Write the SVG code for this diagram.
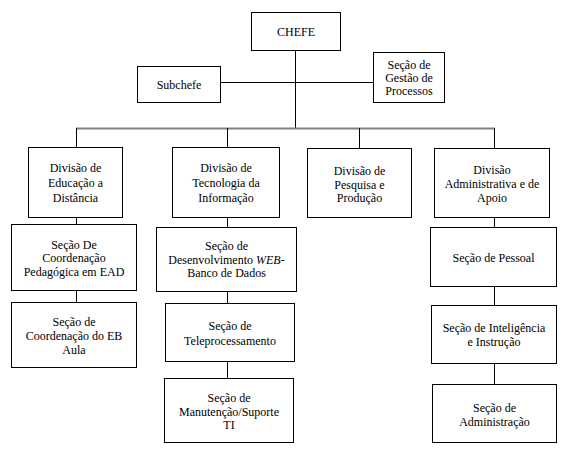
<svg xmlns="http://www.w3.org/2000/svg" width="571" height="464" viewBox="0 0 571 464">
<style>
rect.n{fill:#fff;stroke:#000;stroke-width:1}
.c line{stroke:#000;stroke-width:1}
.c line.bus{stroke:#808080;stroke-width:2}
</style>
<rect width="571" height="464" fill="#fff"/>
<g class="c" id="connectors">
<line x1="295.5" y1="50" x2="295.5" y2="128"/>
<line x1="221" y1="82.5" x2="373" y2="82.5"/>
<line class="bus" x1="76" y1="128.5" x2="495" y2="128.5"/>
<line x1="76.5" y1="128" x2="76.5" y2="147"/>
<line x1="227.5" y1="128" x2="227.5" y2="147"/>
<line x1="359.5" y1="128" x2="359.5" y2="148"/>
<line x1="494.5" y1="128" x2="494.5" y2="148"/>
<line x1="76.5" y1="218" x2="76.5" y2="224"/>
<line x1="76.5" y1="291" x2="76.5" y2="302"/>
<line x1="227.5" y1="218" x2="227.5" y2="227"/>
<line x1="227.5" y1="292" x2="227.5" y2="303"/>
<line x1="227.5" y1="362" x2="227.5" y2="378"/>
<line x1="494.5" y1="218" x2="494.5" y2="227"/>
<line x1="494.5" y1="287" x2="494.5" y2="305"/>
<line x1="494.5" y1="364" x2="494.5" y2="384"/>
</g>
<g font-family="'Liberation Serif', 'DejaVu Serif', serif" font-size="12" fill="#000" text-anchor="middle">
<g id="chefe"><rect class="n" x="251.5" y="12.5" width="89" height="38"/><text x="296" y="35.5">CHEFE</text></g>
<g id="subchefe"><rect class="n" x="137.5" y="66.5" width="83" height="36"/><text x="179" y="88.5">Subchefe</text></g>
<g id="gestao"><rect class="n" x="373.5" y="52.5" width="71" height="50"/><text x="409" y="69">Seção de</text><text x="409" y="82">Gestão de</text><text x="409" y="95">Processos</text></g>
<g id="div-ead"><rect class="n" x="28.5" y="147.5" width="94" height="70"/><text x="75.5" y="172">Divisão de</text><text x="75.5" y="187">Educação a</text><text x="75.5" y="201.5">Distância</text></g>
<g id="div-ti"><rect class="n" x="172.5" y="147.5" width="107" height="70"/><text x="226" y="172">Divisão de</text><text x="226" y="187">Tecnologia da</text><text x="226" y="201.5">Informação</text></g>
<g id="div-pesq"><rect class="n" x="307.5" y="148.5" width="104" height="69"/><text x="359.5" y="175">Divisão de</text><text x="359.5" y="188.5">Pesquisa e</text><text x="359.5" y="202">Produção</text></g>
<g id="div-adm"><rect class="n" x="434.5" y="148.5" width="115" height="69"/><text x="492" y="174">Divisão</text><text x="492" y="188">Administrativa e de</text><text x="492" y="202">Apoio</text></g>
<g id="sec-coord-ped"><rect class="n" x="11.5" y="224.5" width="125" height="66"/><text x="74" y="248.5">Seção De</text><text x="74" y="262">Coordenação</text><text x="74" y="275.5">Pedagógica em EAD</text></g>
<g id="sec-coord-eb"><rect class="n" x="11.5" y="302.5" width="125" height="65"/><text x="74" y="326">Seção de</text><text x="74" y="340">Coordenação do EB</text><text x="74" y="354">Aula</text></g>
<g id="sec-web"><rect class="n" x="156.5" y="227.5" width="140" height="64"/><text x="226.5" y="250">Seção de</text><text x="226.5" y="263.5">Desenvolvimento <tspan font-style="italic">WEB</tspan>-</text><text x="226.5" y="277">Banco de Dados</text></g>
<g id="sec-telep"><rect class="n" x="165.5" y="303.5" width="129" height="58"/><text x="230" y="330">Seção de</text><text x="230" y="345">Teleprocessamento</text></g>
<g id="sec-manut"><rect class="n" x="164.5" y="378.5" width="129" height="64"/><text x="229" y="402">Seção de</text><text x="229" y="415.5">Manutenção/Suporte</text><text x="229" y="429">TI</text></g>
<g id="sec-pessoal"><rect class="n" x="430.5" y="227.5" width="126" height="59"/><text x="493.5" y="261.5">Seção de Pessoal</text></g>
<g id="sec-intel"><rect class="n" x="431.5" y="305.5" width="125" height="58"/><text x="494" y="332">Seção de Inteligência</text><text x="494" y="345.5">e Instrução</text></g>
<g id="sec-adm"><rect class="n" x="432.5" y="384.5" width="124" height="58"/><text x="494.5" y="412">Seção de</text><text x="494.5" y="425.5">Administração</text></g>
</g>
</svg>
